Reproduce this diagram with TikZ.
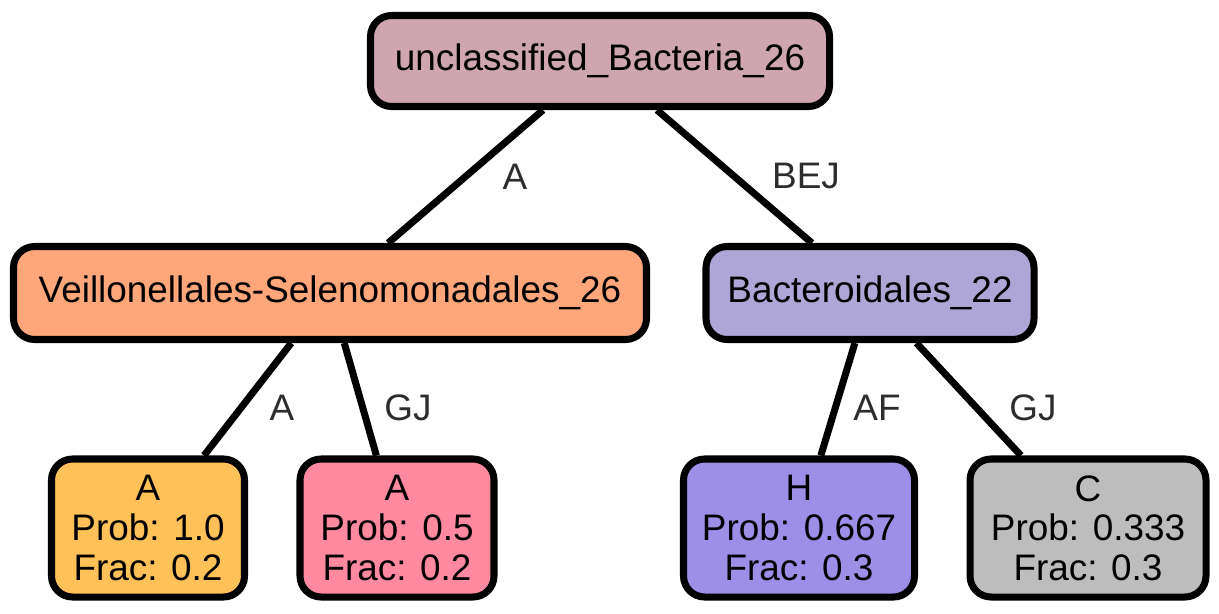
\documentclass[tikz,border=0pt]{standalone}
\usepackage{fontspec}
\setmainfont{Liberation Sans}
\definecolor{rootfill}{RGB}{207,165,176}
\definecolor{veilfill}{RGB}{255,167,122}
\definecolor{bactfill}{RGB}{173,166,214}
\definecolor{afill}{RGB}{255,193,88}
\definecolor{bfill}{RGB}{255,138,160}
\definecolor{hfill}{RGB}{157,142,232}
\definecolor{cfill}{RGB}{189,189,189}
\definecolor{lblgray}{RGB}{45,45,45}
\tikzset{
  taxon/.style={draw=black, line width=4pt, rounded corners=12pt, inner sep=0pt,
    align=center, font=\fontsize{21}{22.5}\selectfont},
  lbl/.style={text=lblgray, font=\fontsize{21}{22.5}\selectfont, inner sep=0pt},
  link/.style={line width=4pt}
}
\begin{document}
\begin{tikzpicture}[x=0.02cm,y=-0.02cm]
\useasboundingbox (0,0) rectangle (1219,613);

\node[taxon, fill=rootfill, minimum width=459*0.02cm, minimum height=91*0.02cm] (root) at (600,61) {unclassified\_Bacteria\_26};
\node[taxon, fill=veilfill, minimum width=633*0.02cm, minimum height=93*0.02cm] (veil) at (330,293) {Veillonellales-Selenomonadales\_26};
\node[taxon, fill=bactfill, minimum width=328*0.02cm, minimum height=93*0.02cm] (bact) at (870,293) {Bacteroidales\_22};

\node[taxon, fill=afill, minimum width=193*0.02cm, minimum height=138*0.02cm] (leafa) at (148,528) {A\\Prob: 1.0\\Frac: 0.2};
\node[taxon, fill=bfill, minimum width=194*0.02cm, minimum height=138*0.02cm] (leafb) at (397,528) {A\\Prob: 0.5\\Frac: 0.2};
\node[taxon, fill=hfill, minimum width=231*0.02cm, minimum height=138*0.02cm] (leafh) at (799,528) {H\\Prob: 0.667\\Frac: 0.3};
\node[taxon, fill=cfill, minimum width=236*0.02cm, minimum height=138*0.02cm] (leafc) at (1088,528) {C\\Prob: 0.333\\Frac: 0.3};

\draw[link] (root) -- (veil);
\draw[link] (root) -- (bact);
\draw[link] (veil) -- (leafa);
\draw[link] (veil) -- (leafb);
\draw[link] (bact) -- (leafh);
\draw[link] (bact) -- (leafc);

\node[lbl] (ea) at (515,177) {A};
\node[lbl] (ebej) at (806,176) {BEJ};
\node[lbl] (eaa) at (282,408) {A};
\node[lbl] (egj) at (408,408) {GJ};
\node[lbl] (eaf) at (877,408) {AF};
\node[lbl] (egj2) at (1033,408) {GJ};
\end{tikzpicture}
\end{document}
